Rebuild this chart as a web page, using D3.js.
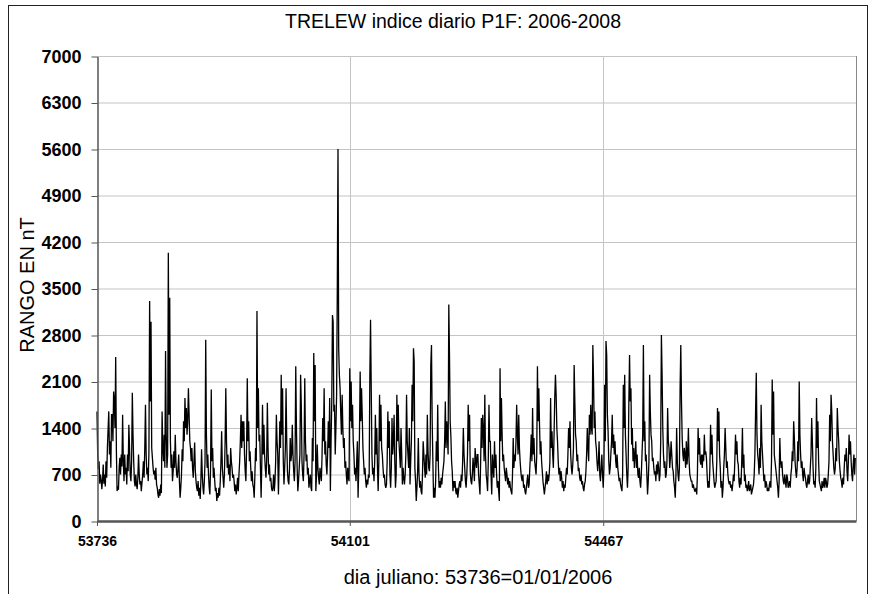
<!DOCTYPE html>
<html lang="es">
<head>
<meta charset="UTF-8">
<title>TRELEW indice diario P1F</title>
<script src="https://d3js.org/d3.v7.min.js"></script>
<style>
  body { margin: 0; background: #fff; }
  svg { display: block; font-family: "Liberation Sans", Arial, sans-serif; }
</style>
</head>
<body>
<svg width="871" height="594"></svg>
<script>
// dia juliano del primer valor (01/01/2006)
const diaInicio = 53736;
const diaFin = 54832;

// rango diario en nT, un valor por dia
const rango2006 = [
  1650, 1000, 780, 900, 560, 700, 620, 480, 620, 850,
  560, 700, 520, 900, 650, 1100, 1380, 1650, 1000, 1200,
  800, 1600, 1600, 1200, 1950, 1800, 1400, 2470, 1050, 450,
  520, 470, 800, 950, 700, 1000, 820, 1600, 900, 600,
  1000, 700, 800, 550, 1000, 750, 1450, 1100, 700, 600,
  900, 1930, 1300, 900, 600, 520, 700, 550, 480, 650,
  1000, 700, 550, 600, 450, 580, 700, 900, 650, 1100,
  1750, 1000, 700, 800, 600, 1050, 3310, 1800, 3000, 1100,
  950, 800, 700, 760, 620, 800, 550, 500, 400, 350,
  480, 380, 550, 420, 1650, 1100, 900, 1300, 800, 2560,
  1300, 800, 1000, 4040, 1600, 3360, 1200, 800, 1000, 600,
  750, 1050, 800, 1300, 900, 700, 650, 800, 1000, 600,
  350, 500, 700, 1080, 900, 1500, 1200, 1850, 1400, 1700,
  1300, 1500, 2000, 1600, 1200, 1100, 900, 1100, 800, 650,
  900, 1180, 750, 600, 500, 450, 600, 380, 500, 330,
  600, 1080, 700, 500, 400, 600, 900, 2730, 1300, 800,
  1000, 700, 500, 400, 800, 1980, 900, 1100, 650, 800,
  600, 450, 500, 300, 420, 350, 500, 380, 600, 900,
  1350, 800, 650, 500, 700, 1200, 2000, 1200, 800, 1000,
  700, 850, 600, 1100, 900, 800, 650, 700, 600, 450,
  550, 400, 500, 650, 450, 700, 900, 1200, 1600, 1100,
  1500, 1200, 1500, 1000, 750, 600, 1100, 2150, 1200, 1500,
  900, 1050, 800, 600, 750, 550, 500, 350, 700, 1100,
  900, 3160, 1400, 2000, 1200, 1300, 800, 350, 900, 1750,
  1000, 1450, 1000, 800, 650, 900, 1780, 1100, 700, 850,
  600, 650, 500, 450, 500, 700, 450, 600, 900, 1600,
  1200, 1000, 400, 900, 1500, 1100, 2200, 1300, 2000, 900,
  550, 800, 1100, 2000, 1200, 750, 600, 550, 800, 1250,
  900, 1000, 1450, 1000, 750, 600, 900, 2330, 1400, 800,
  450, 600, 800, 1000, 2200, 1750, 900, 700, 600, 1000,
  2150, 1200, 900, 1000, 700, 800, 500, 600, 700, 500,
  450, 1250, 900, 2530, 1500, 2350, 450, 700, 1150, 800,
  650, 550, 800, 700, 600, 1000, 1550, 1200, 2000, 1000,
  1200, 850, 700, 1000, 1500, 1100, 1850, 450, 1200, 1800,
  3100, 3000, 1650, 1750, 1000, 1400, 1900, 3500, 5600, 2600,
  2200, 2000, 1600, 1300, 1900, 1400, 1100, 1250, 800, 900,
  700, 550, 800, 650, 600
];

const rango2007 = [
  2300, 1500, 2100, 1400, 1750, 1200, 1000, 700, 800, 600,
  900, 1200, 350, 800, 1300, 2250, 1500, 2000, 1600, 1100,
  900, 700, 800, 600, 500, 625, 550, 700, 650, 2200,
  3030, 2000, 1000, 700, 800, 600, 900, 1600, 1000, 1400,
  800, 450, 900, 1900, 1200, 1750, 1100, 1000, 800, 650,
  700, 550, 500, 550, 900, 1650, 1100, 1500, 700, 500,
  800, 1550, 1000, 1200, 1600, 900, 500, 700, 1900, 1200,
  1750, 1200, 1000, 800, 1400, 1000, 550, 800, 650, 550,
  700, 1000, 1900, 1200, 1000, 800, 1400, 550, 900, 1200,
  2050, 1500, 2600, 2400, 800, 600, 300, 500, 750, 1250,
  700, 500, 600, 450, 400, 700, 1200, 1000, 800, 650,
  1000, 700, 1600, 1050, 800, 750, 1000, 2350, 2650, 1500,
  900, 350, 500, 350, 600, 1200, 900, 1750, 800, 500,
  600, 500, 650, 550, 700, 800, 900, 1200, 1800, 1100,
  1500, 1300, 1000, 3260, 2500, 1500, 1280, 900, 750, 450,
  600, 500, 600, 450, 400, 500, 350, 450, 550, 600,
  500, 700, 600, 900, 1400, 1000, 800, 600, 500, 700,
  1000, 1750, 1200, 1600, 750, 600, 550, 700, 950, 800,
  600, 1100, 900, 800, 1000, 1000, 700, 550, 400, 900,
  1550, 1100, 1600, 1350, 900, 1900, 1000, 700, 600, 450,
  900, 1750, 1200, 1200, 700, 400, 1000, 800, 650, 1200,
  800, 1000, 700, 500, 600, 450, 300, 2300, 1200, 1850,
  1300, 900, 1000, 800, 700, 600, 800, 700, 550, 650,
  500, 600, 500, 450, 400, 700, 1250, 800, 1000, 900,
  1200, 1750, 1300, 1000, 1600, 1100, 900, 750, 650, 600,
  700, 500, 550, 450, 400, 500, 600, 700, 500, 550,
  800, 1000, 1300, 900, 1700, 1000, 1250, 900, 800, 700,
  1000, 2330, 1500, 2000, 1450, 1000, 1200, 900, 750, 600,
  500, 400, 500, 600, 750, 550, 700, 600, 700, 900,
  1850, 1100, 1350, 1000, 800, 1300, 1850, 2200, 1900, 1400,
  1200, 900, 700, 800, 600, 750, 650, 500, 600, 450,
  550, 500, 650, 800, 700, 1000, 1400, 1100, 1500, 1000,
  800, 700, 850, 1100, 2350, 1800, 1300, 1200, 900, 1000,
  750, 800, 650, 600, 700, 550, 600, 500, 450, 550,
  600, 750, 1000, 1400, 1100, 900, 1600, 1300, 1750, 1400,
  1300, 2650, 2100, 1400, 1650, 1200, 1100, 900, 750, 900,
  1200, 700, 600, 800, 1000
];

const rango2008 = [
  700, 500, 800, 2050, 1200, 2710, 2500, 1600, 1350, 900,
  700, 800, 1000, 1200, 1600, 1100, 1300, 1000, 1200, 900,
  800, 1000, 800, 700, 600, 650, 550, 500, 450, 700,
  2050, 1400, 2200, 1300, 1000, 700, 500, 800, 1800, 2500,
  1800, 2000, 1150, 1400, 900, 1100, 800, 1000, 1200, 800,
  1000, 700, 650, 800, 600, 500, 700, 1000, 1300, 2650,
  1200, 1500, 900, 1000, 700, 400, 600, 900, 2200, 1650,
  1300, 1200, 900, 950, 800, 700, 750, 600, 850, 700,
  900, 800, 600, 700, 1200, 2800, 2200, 1400, 1000, 800,
  900, 650, 700, 900, 1700, 1200, 1100, 800, 950, 1200,
  1000, 800, 750, 600, 500, 350, 700, 1400, 900, 700,
  600, 800, 2000, 2650, 1800, 1250, 1000, 900, 1100, 1000,
  800, 1200, 850, 1000, 1400, 900, 700, 650, 600, 600,
  500, 550, 500, 450, 450, 500, 400, 700, 1400, 1000,
  1250, 900, 850, 1000, 800, 1000, 900, 1300, 1000, 1050,
  950, 700, 500, 600, 500, 800, 1450, 1000, 1300, 900,
  750, 600, 500, 550, 600, 900, 1700, 1200, 1650, 1000,
  800, 500, 600, 350, 500, 800, 1000, 1400, 1100, 800,
  900, 700, 600, 550, 600, 500, 550, 450, 550, 700,
  600, 900, 1300, 1000, 1200, 900, 850, 600, 500, 650,
  550, 900, 1400, 800, 1000, 600, 700, 500, 550, 450,
  500, 600, 450, 500, 550, 400, 450, 500, 550, 700,
  1000, 1650, 2230, 1300, 1000, 900, 700, 1100, 800, 1750,
  1200, 1000, 800, 600, 700, 500, 600, 550, 450, 500,
  450, 550, 600, 500, 900, 2130, 1300, 1950, 1000, 900,
  800, 700, 600, 500, 350, 600, 1250, 900, 800, 900,
  700, 600, 550, 700, 600, 500, 700, 650, 500, 550,
  600, 500, 700, 800, 1050, 900, 1500, 1250, 900, 750,
  650, 800, 1200, 900, 2100, 1300, 1000, 800, 900, 700,
  600, 800, 700, 650, 550, 500, 600, 700, 550, 600,
  800, 1000, 1550, 1200, 800, 550, 600, 500, 800, 1850,
  1100, 1500, 900, 600, 550, 500, 450, 600, 500, 550,
  650, 500, 650, 600, 500, 550, 700, 900, 1600, 1200,
  1900, 1650, 1200, 1000, 800, 700, 800, 1100, 900, 1700,
  1400, 1200, 900, 750, 650, 600, 500, 650, 550, 800,
  1000, 900, 1100, 750, 600, 900, 1300, 1000, 1200, 900,
  700, 600, 850, 1000, 700, 950
];

const yTicks = [0, 700, 1400, 2100, 2800, 3500, 4200, 4900, 5600, 6300, 7000];
const xTicks = [53736, 54101, 54467];
const xGrid = [54101, 54467];

const titulo = 'TRELEW indice diario P1F: 2006-2008';
const tituloY = 'RANGO EN nT';
const tituloX = 'dia juliano: 53736=01/01/2006';

const svg = d3.select('svg');
const width = +svg.attr('width');
const height = +svg.attr('height');
const margin = { top: 56, right: 15, bottom: 73, left: 97 };

const data = rango2006.concat(rango2007, rango2008)
  .map((v, i) => ({ dia: diaInicio + i, valor: v }));

const xScale = d3.scaleLinear()
  .domain([diaInicio, diaFin])
  .range([margin.left, width - margin.right]);

const yScale = d3.scaleLinear()
  .domain([0, 7000])
  .range([height - margin.bottom, margin.top]);

// fondo y borde del grafico
svg.append('rect')
  .attr('width', width).attr('height', height)
  .attr('fill', '#fff');
svg.append('rect')
  .attr('x', 8.5).attr('y', 5.5)
  .attr('width', 859).attr('height', 620)
  .attr('fill', 'none')
  .attr('stroke', '#222')
  .attr('stroke-width', 1);

// lineas de grilla
svg.append('g')
  .selectAll('line')
  .data(yTicks.filter(d => d > 0))
  .join('line')
  .attr('x1', margin.left).attr('x2', width - margin.right)
  .attr('y1', d => yScale(d) + 0.5).attr('y2', d => yScale(d) + 0.5)
  .attr('stroke', '#c4c4c4');

svg.append('g')
  .selectAll('line')
  .data(xGrid)
  .join('line')
  .attr('x1', d => Math.round(xScale(d)) + 0.5).attr('x2', d => Math.round(xScale(d)) + 0.5)
  .attr('y1', margin.top).attr('y2', height - margin.bottom)
  .attr('stroke', '#c4c4c4');

// borde derecho del area de trazado
svg.append('line')
  .attr('x1', width - margin.right + 0.5).attr('x2', width - margin.right + 0.5)
  .attr('y1', margin.top).attr('y2', height - margin.bottom)
  .attr('stroke', '#8a8a8a');

// serie diaria
const line = d3.line()
  .x(d => xScale(d.dia))
  .y(d => yScale(d.valor));

svg.append('path')
  .datum(data)
  .attr('d', line)
  .attr('fill', 'none')
  .attr('stroke', '#000')
  .attr('stroke-width', 1.3);

// ejes
const yAxis = d3.axisLeft(yScale)
  .tickValues(yTicks)
  .tickFormat(d3.format('d'))
  .tickSize(6)
  .tickSizeOuter(0)
  .tickPadding(10);

const gy = svg.append('g')
  .attr('transform', 'translate(' + [margin.left + 0.5, 0.5] + ')')
  .call(yAxis);
gy.select('.domain').attr('stroke', '#555').attr('stroke-width', 1.5);
gy.selectAll('.tick line').attr('stroke', '#555');
gy.selectAll('.tick text')
  .attr('fill', '#000')
  .style('font-size', '18px')
  .style('font-weight', 'bold')
  .style('font-family', '"Liberation Sans", Arial, sans-serif');

const xAxis = d3.axisBottom(xScale)
  .tickValues(xTicks)
  .tickFormat(d3.format('d'))
  .tickSize(5)
  .tickSizeOuter(0)
  .tickPadding(10);

const gx = svg.append('g')
  .attr('transform', 'translate(' + [0, height - margin.bottom] + ')')
  .call(xAxis);
gx.select('.domain').attr('stroke', '#555').attr('stroke-width', 2.5);
gx.selectAll('.tick line').attr('stroke', '#555');
gx.selectAll('.tick text')
  .attr('fill', '#000')
  .style('font-size', '14px')
  .style('font-weight', 'bold')
  .style('font-family', '"Liberation Sans", Arial, sans-serif');

// titulos
svg.append('text')
  .attr('x', 453).attr('y', 28)
  .attr('text-anchor', 'middle')
  .style('font-size', '19.5px')
  .text(titulo);

svg.append('text')
  .attr('transform', 'translate(34,285) rotate(-90)')
  .attr('text-anchor', 'middle')
  .style('font-size', '20px')
  .text(tituloY);

svg.append('text')
  .attr('x', 478).attr('y', 584)
  .attr('text-anchor', 'middle')
  .style('font-size', '20px')
  .text(tituloX);
</script>
</body>
</html>
